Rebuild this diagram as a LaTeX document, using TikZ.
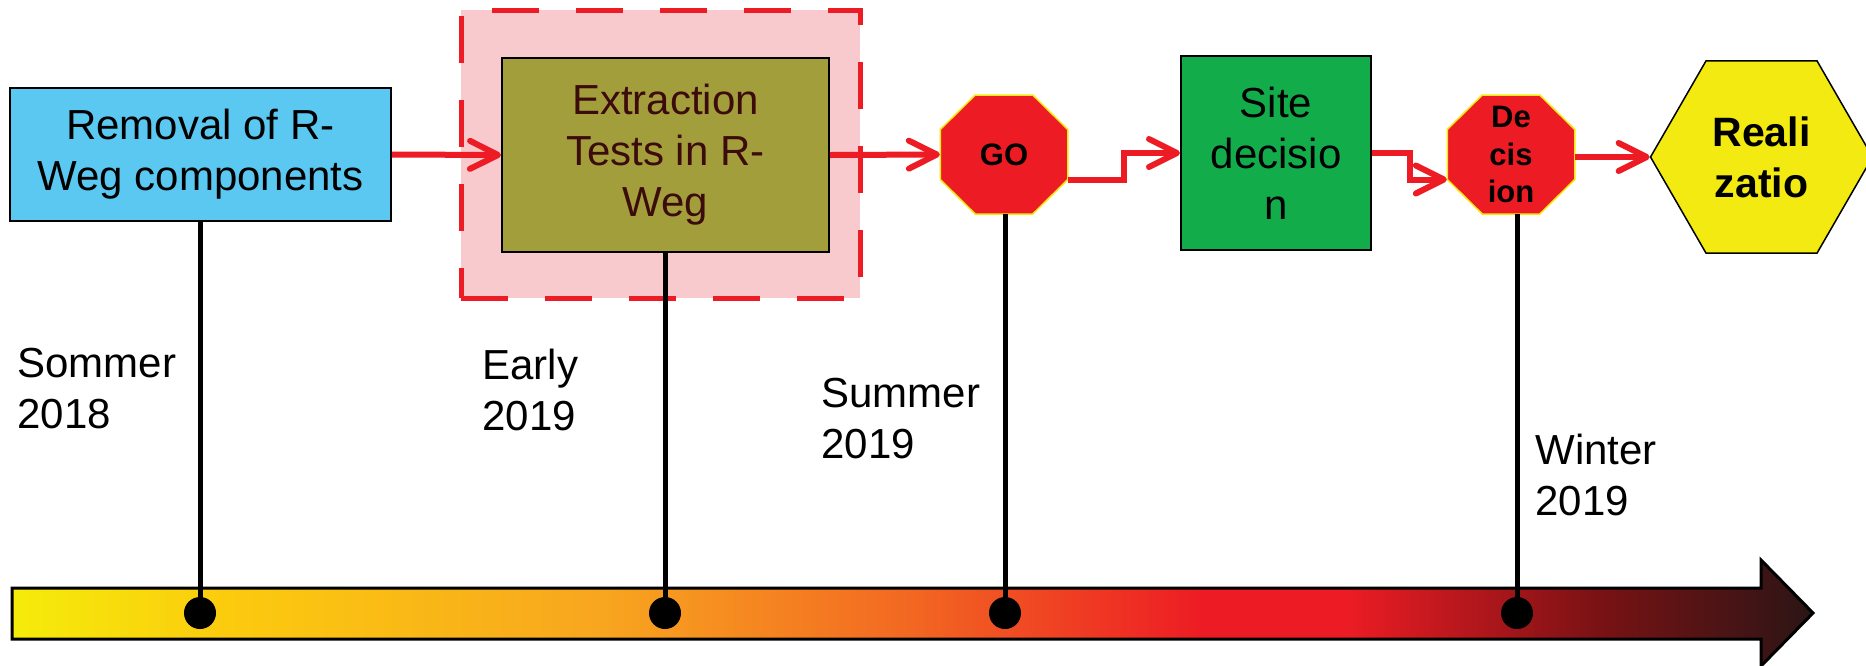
\documentclass[tikz,border=0pt]{standalone}
\usepackage{fontspec}
\setmainfont{Liberation Sans}
\usetikzlibrary{shapes.geometric,arrows.meta}

\definecolor{boxblue}{HTML}{5BC8F2}
\definecolor{boxolive}{HTML}{A39E3C}
\definecolor{olivetext}{HTML}{3C0B0B}
\definecolor{framepink}{HTML}{F9CACD}
\definecolor{flowred}{HTML}{ED1C24}
\definecolor{sitegreen}{HTML}{13AC4B}
\definecolor{signyellow}{HTML}{F2EA10}
\definecolor{tlA}{HTML}{F5EC0A}
\definecolor{tlB}{HTML}{FBCB0E}
\definecolor{tlC}{HTML}{F8A51F}
\definecolor{tlD}{HTML}{F26722}
\definecolor{tlE}{HTML}{ED1C24}
\definecolor{tlF}{HTML}{7A1214}
\definecolor{tlG}{HTML}{2B1515}

\pgfdeclarehorizontalshading{timeline}{100bp}{color(0bp)=(tlA); color(25bp)=(tlA); color(31bp)=(tlB); color(41.5bp)=(tlC); color(50bp)=(tlD); color(58bp)=(tlE); color(62bp)=(tlE); color(69bp)=(tlF); color(75bp)=(tlG); color(100bp)=(tlG)}

\begin{document}
\begin{tikzpicture}[x=0.5pt,y=-0.5pt,
        stage/.style={draw=black, line width=1pt, align=center, inner sep=0pt, font=\fontsize{21}{25.5}\selectfont},
        signshape/.style={fill=flowred, draw=signyellow, line width=0.75pt},
        signtext/.style={minimum width=63.75pt, minimum height=59.5pt, inner sep=0pt, align=center, font=\bfseries\fontsize{15.5}{18.75}\selectfont},
        flow/.style={draw=flowred, line width=3pt, -{Straight Barb[length=14pt,width=14pt,round]}},
        stem/.style={line width=2.5pt},
        datelabel/.style={anchor=north west, inner sep=0pt, align=left, font=\fontsize{21}{25.5}\selectfont}]
        \clip (0,0) rectangle (1866,665);

        \coordinate (T1) at (200,613);
        \coordinate (T2) at (665,613);
        \coordinate (T3) at (1005,613);
        \coordinate (T4) at (1517,613);
        \coordinate (G) at (1004,154.5);
        \coordinate (D) at (1511,154.5);

        \node[draw=flowred, fill=framepink, line width=2.5pt, dash pattern=on 23.5pt off 18.5pt, minimum width=199.5pt, minimum height=144pt] (frame) at (660.5,154) {};

        \node[stage, fill=boxblue, minimum width=190.5pt, minimum height=66.5pt] (removal) at (200.5,154.5) {Removal of R-\\Weg components};
        \node[stage, fill=boxolive, text=olivetext, minimum width=163.5pt, minimum height=97.2pt] (extraction) at (665.5,155) {Extraction\\Tests in R-\\Weg};
        \node[stage, fill=sitegreen, minimum width=95pt, minimum height=97pt] (site) at (1276,153) {Site\\decisio\\n};

        \filldraw[signshape] (G) ++(-28.75,-59.5) -- ++(57.5,0) -- ++(35,34.5) -- ++(0,50) -- ++(-35,34.5) -- ++(-57.5,0) -- ++(-35,-34.5) -- ++(0,-50) -- cycle;
        \filldraw[signshape] (D) ++(-28.75,-59.5) -- ++(57.5,0) -- ++(35,34.5) -- ++(0,50) -- ++(-35,34.5) -- ++(-57.5,0) -- ++(-35,-34.5) -- ++(0,-50) -- cycle;
        \node[signtext] (go) at (G) {GO};
        \node[signtext] (decision) at (D) {De\\cis\\ion};

        \node[regular polygon, regular polygon sides=6, minimum size=111pt, inner sep=0pt, fill=signyellow, draw=black, line width=0.75pt, align=center, font=\bfseries\fontsize{20.5}{25.5}\selectfont] (realization) at (1761.5,157) {Reali\\zatio};

        \shadedraw[shading=timeline, line width=1.5pt] (12,588) -- (1761,588) -- (1761,560) -- (1813,613) -- (1761,666) -- (1761,639) -- (12,639) -- cycle;

        \draw[stem] (T1 |- removal.south) -- (T1);
        \draw[stem] (T2 |- extraction.south) -- (T2);
        \draw[stem] (T3 |- go.south) -- (T3);
        \draw[stem] (T4 |- decision.south) -- (T4);

        \fill (T1) circle (8pt);
        \fill (T2) circle (8pt);
        \fill (T3) circle (8pt);
        \fill (T4) circle (8pt);

        \draw[flow] (removal.east) -- (extraction.west);
        \draw[flow] (extraction.east) -- (go.west);
        \draw[flow] ([yshift=-12.5pt]go.east) -- ++(56,0) |- (site.west);
        \draw[flow] (site.east) -- ++(38,0) |- ([yshift=-12.5pt]decision.west);
        \draw[flow] (decision.east |- realization.west) -- (realization.west);

        \node[datelabel] (sommer) at (17,348) {Sommer\\2018};
        \node[datelabel] (early) at (482,349) {Early\\2019};
        \node[datelabel] (summer) at (821,378) {Summer\\2019};
        \node[datelabel] (winter) at (1535,434) {Winter\\2019};
    \end{tikzpicture}
\end{document}
